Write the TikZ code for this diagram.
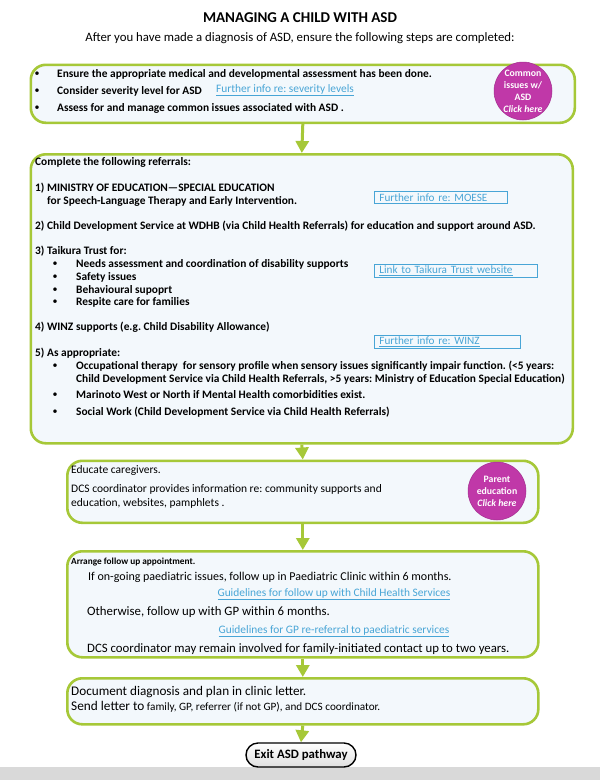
\documentclass[tikz,border=0pt]{standalone}
\usepackage{fontspec}
\setmainfont{Carlito}
\usetikzlibrary{arrows.meta}
\frenchspacing

\definecolor{boxgreen}{RGB}{166,200,56}
\definecolor{boxfill}{RGB}{243,248,252}
\definecolor{linkblue}{RGB}{72,165,214}
\definecolor{clickpink}{RGB}{192,56,168}
\definecolor{bargray}{RGB}{217,217,217}

\begin{document}
\begin{tikzpicture}[x=1pt, y=-1pt,
    stepbox/.style={draw=boxgreen, line width=2.6pt, fill=boxfill, rounded corners=15pt, anchor=north west, inner sep=0},
    flow/.style={boxgreen, line width=3pt, -{Triangle[width=13pt, length=12pt]}},
    body/.style={anchor=west, inner sep=0, font=\fontsize{11.4}{13}\selectfont\bfseries},
    plain/.style={anchor=west, inner sep=0, font=\fontsize{11.5}{13}\selectfont},
    big/.style={anchor=west, inner sep=0, font=\fontsize{12.8}{14}\selectfont},
    dot/.style={inner sep=0, font=\fontsize{10}{12}\selectfont},
    weblink/.style={inner sep=0, text=linkblue, font=\fontsize{11.4}{13}\selectfont},
    linkbox/.style={draw=linkblue, line width=0.8pt, anchor=north west, inner xsep=5pt, inner ysep=0, align=left, text=linkblue, font=\fontsize{11.2}{12}\selectfont},
    click/.style={circle, fill=clickpink, draw=clickpink!85!black, line width=0.5pt, minimum size=58pt, inner sep=0, align=center, text=white, font=\fontsize{9.8}{12}\selectfont\bfseries}]

    \useasboundingbox (0,0) rectangle (600,780);
    \fill[white] (0,0) rectangle (600,780);
    \fill[bargray] (0,767) rectangle (600,780);

    % heading
    \node[inner sep=0, font=\fontsize{15}{17}\selectfont\bfseries] (ttl) at (300,18) {MANAGING A CHILD WITH ASD};
    \node[inner sep=0, font=\fontsize{12.8}{15}\selectfont] (sub) at (300,38) {After you have made a diagnosis of ASD, ensure the following steps are completed:};

    % step 1
    \node[stepbox, minimum width=544pt, minimum height=58pt] (b1) at (29.5,63.5) {};
    \node[dot] (d1) at (37,74) {\textbullet};
    \node[dot] (d2) at (37,91) {\textbullet};
    \node[dot] (d3) at (37,108) {\textbullet};
    \node[body] (t1) at (57,74) {Ensure the appropriate medical and developmental assessment has been done.};
    \node[body] (t2) at (57,91) {Consider severity level for ASD};
    \node[body] (t3) at (57,108) {Assess for and manage common issues associated with ASD .};
    \node[weblink, anchor=west] (l1) at (216,90) {\underline{Further info re: severity levels}};
    \node[click] (c1) at (523,91) {Common\\issues w/\\ASD\\\textit{Click here}};

    % step 2
    \node[stepbox, minimum width=542pt, minimum height=289pt] (b2) at (29.5,153) {};
    \node[body] (r0) at (35,162) {Complete the following referrals:};
    \node[body] (r1) at (35,188) {1) MINISTRY OF EDUCATION—SPECIAL EDUCATION};
    \node[body] (r1b) at (47,201) {for Speech-Language Therapy and Early Intervention.};
    \node[body] (r2) at (35,226) {2) Child Development Service at WDHB (via Child Health Referrals) for education and support around ASD.};
    \node[body] (r3) at (35,251) {3) Taikura Trust for:};
    \node[dot] (e1) at (55,264) {\textbullet};
    \node[dot] (e2) at (55,277) {\textbullet};
    \node[dot] (e3) at (55,290) {\textbullet};
    \node[dot] (e4) at (55,302) {\textbullet};
    \node[body] (s1) at (76,264) {Needs assessment and coordination of disability supports};
    \node[body] (s2) at (76,277) {Safety issues};
    \node[body] (s3) at (76,290) {Behavioural supoprt};
    \node[body] (s4) at (76,302) {Respite care for families};
    \node[body] (r4) at (35,327) {4) WINZ supports (e.g. Child Disability Allowance)};
    \node[body] (r5) at (35,353) {5) As appropriate:};
    \node[dot] (f1) at (55,366) {\textbullet};
    \node[dot] (f2) at (55,395) {\textbullet};
    \node[dot] (f3) at (55,412) {\textbullet};
    \node[body] (a1) at (76,366) {Occupational therapy\ \ for sensory profile when sensory issues significantly impair function. (<5 years:};
    \node[body] (a1b) at (76,379) {Child Development Service via Child Health Referrals, >5 years: Ministry of Education Special Education)};
    \node[body] (a2) at (76,395) {Marinoto West or North if Mental Health comorbidities exist.};
    \node[body] (a3) at (76,412) {Social Work (Child Development Service via Child Health Referrals)};
    \node[linkbox, minimum width=133pt, minimum height=12pt, text width=123pt] (k1) at (374,191) {Further info re: MOESE};
    \node[linkbox, minimum width=163pt, minimum height=13pt, text width=153pt] (k2) at (374,264) {\underline{Link to Taikura Trust website}};
    \node[linkbox, minimum width=146pt, minimum height=13pt, text width=136pt] (k3) at (374,335) {\underline{Further info re: WINZ}};

    % step 3
    \node[stepbox, minimum width=471pt, minimum height=62pt] (b3) at (66,459.5) {};
    \node[plain] (u1) at (71,470) {Educate caregivers.};
    \node[plain] (u2) at (71,489) {DCS coordinator provides information re: community supports and};
    \node[plain] (u3) at (71,503) {education, websites, pamphlets .};
    \node[click] (c2) at (497,491) {Parent\\education\\\textit{Click here}};

    % step 4
    \node[stepbox, minimum width=471pt, minimum height=106pt] (b4) at (66,550) {};
    \node[body, font=\fontsize{9.3}{11}\selectfont\bfseries] (v1) at (71,562) {Arrange follow up appointment.};
    \node[big, font=\fontsize{12}{14}\selectfont] (v2) at (88,577) {If on-going paediatric issues, follow up in Paediatric Clinic within 6 months.};
    \node[weblink] (l2) at (334,594) {\underline{Guidelines for follow up with Child Health Services}};
    \node[big] (v3) at (87,612) {Otherwise, follow up with GP within 6 months.};
    \node[weblink] (l3) at (334,631) {\underline{Guidelines for GP re-referral to paediatric services}};
    \node[big] (v4) at (87,649) {DCS coordinator may remain involved for family-initiated contact up to two years.};

    % step 5
    \node[stepbox, minimum width=471pt, minimum height=46pt] (b5) at (66,677) {};
    \node[big, font=\fontsize{13.2}{15}\selectfont] (w1) at (71,692) {Document diagnosis and plan in clinic letter.};
    \node[plain, font=\fontsize{11.2}{13}\selectfont] (w2) at (71,707) {{\fontsize{13.3}{15}\selectfont Send letter to} family, GP, referrer (if not GP), and DCS coordinator.};

    % exit
    \node[draw=black, line width=1.4pt, rounded corners=12pt, top color=white, bottom color=gray!25, minimum width=110pt, minimum height=24pt, inner sep=0, font=\fontsize{12.8}{14}\selectfont\bfseries] (ex) at (301,755) {Exit ASD pathway};

    % arrows
    \draw[flow] (b1.south) -- (b2.north);
    \draw[flow] (b2.south) -- (b3.north);
    \draw[flow] (b3.south) -- (b4.north);
    \draw[flow] (b4.south) -- (b5.north);
    \draw[flow] (b5.south) -- (ex.north);
\end{tikzpicture}
\end{document}
